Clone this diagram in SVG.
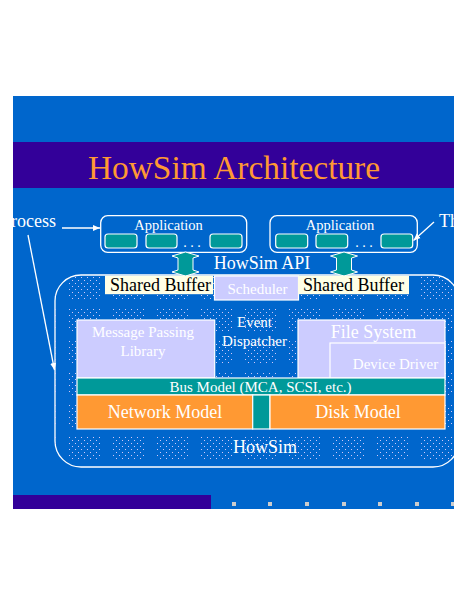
<svg xmlns="http://www.w3.org/2000/svg" width="468" height="605" viewBox="0 0 468 605">
  <style>
    .t { font-family: "Liberation Serif", "Times New Roman", serif; fill: #ffffff; }
    .blk { fill: #000000; }
    .ln { stroke: #ffffff; stroke-width: 1.3; fill: none; }
    .lav { fill: #ccccff; stroke: #ffffff; stroke-width: 1.2; }
    .teal { fill: #009999; stroke: #ffffff; stroke-width: 1.2; }
    .org { fill: #ff9933; stroke: #ffffff; stroke-width: 1.2; }
    .buf { fill: #ffffe6; }
  </style>
  <defs>
    <marker id="ah" markerWidth="8" markerHeight="8" refX="7" refY="4" orient="auto" markerUnits="userSpaceOnUse">
      <path d="M0 1 L7 4 L0 7 z" fill="#ffffff"/>
    </marker>
    <pattern id="dots" patternUnits="userSpaceOnUse" x="69" y="277" width="44" height="32">
      <path d="M0 0.5h31M3 3.5h28M0 6.5h31M3 9.5h28M0 12.5h31M3 15.5h28M0 18.5h31M3 21.5h28" stroke="#d0c8f8" stroke-width="1" stroke-dasharray="1 5"/>
    </pattern>
    <clipPath id="slide"><rect x="13" y="96" width="441" height="413"/></clipPath>
  </defs>

  <!-- slide background -->
  <rect x="13" y="96" width="441" height="413" fill="#0066cc"/>
  <rect x="13" y="142" width="441" height="46" fill="#330099"/>
  <text class="t" x="234" y="179" font-size="33.4" text-anchor="middle" style="fill:#ff9933">HowSim Architecture</text>
  <rect x="13" y="495" width="198" height="14" fill="#330099"/>
  <g fill="#cccccc">
    <rect x="232" y="502" width="4" height="4"/>
    <rect x="268" y="502" width="4" height="4"/>
    <rect x="305" y="502" width="4" height="4"/>
    <rect x="342" y="502" width="4" height="4"/>
    <rect x="378" y="502" width="4" height="4"/>
    <rect x="415" y="502" width="4" height="4"/>
    <rect x="451" y="502" width="3" height="4"/>
  </g>

  <!-- HowSim container -->
  <g id="howsim" clip-path="url(#slide)">
    <rect x="55" y="275" width="404" height="192" rx="26" ry="26" fill="#0066cc" stroke="#ffffff" stroke-width="1.3"/>
    <rect x="55" y="275" width="404" height="192" rx="26" ry="26" fill="url(#dots)"/>
    <text class="t" x="265" y="453" font-size="18" text-anchor="middle">HowSim</text>
  </g>

  <!-- Applications -->
  <g id="app1">
    <rect class="ln" x="100.7" y="215.7" width="146" height="36.6" rx="7"/>
    <text class="t" x="168.5" y="229.5" font-size="14.5" text-anchor="middle">Application</text>
    <rect class="teal" x="105" y="234" width="32" height="14" rx="3"/>
    <rect class="teal" x="146" y="234" width="31" height="14" rx="3"/>
    <text class="t" x="192" y="247" font-size="14" text-anchor="middle">. . .</text>
    <rect class="teal" x="210" y="234" width="32" height="14" rx="3"/>
  </g>
  <g id="app2">
    <rect class="ln" x="270" y="215.7" width="147.3" height="36.6" rx="7"/>
    <text class="t" x="340" y="229.5" font-size="14.5" text-anchor="middle">Application</text>
    <rect class="teal" x="275.7" y="234" width="32" height="14" rx="3"/>
    <rect class="teal" x="316" y="234" width="31.7" height="14" rx="3"/>
    <text class="t" x="364" y="247" font-size="14" text-anchor="middle">. . .</text>
    <rect class="teal" x="381" y="234" width="31.7" height="14" rx="3"/>
  </g>

  <g id="labels">
    <text class="t" x="56" y="227" font-size="18" text-anchor="end">Process</text>
    <text class="t" x="439" y="227" font-size="18">Th</text>
    <text class="t" x="262" y="269" font-size="18" text-anchor="middle">HowSim API</text>
  </g>

  <!-- API arrows -->
  <g id="api-arrows" fill="#009999" stroke="#ffffff" stroke-width="1">
    <polygon points="185.5,252 199,256 193,258 193,270 199,272 185.5,276 172,272 178,270 178,258 172,256"/>
    <polygon points="344,252 357.5,256 351.5,258 351.5,270 357.5,272 344,276 330.5,272 336.5,270 336.5,258 330.5,256"/>
  </g>

  <!-- Shared buffers and scheduler -->
  <g id="buf1">
    <rect class="buf" x="105" y="275.7" width="108" height="18.5"/>
    <text class="t blk" x="160.5" y="291" font-size="18" text-anchor="middle">Shared Buffer</text>
  </g>
  <g id="sched">
    <rect class="lav" x="214.5" y="276" width="84" height="24"/>
    <text class="t" x="257.5" y="293.5" font-size="15" text-anchor="middle">Scheduler</text>
  </g>
  <g id="buf2">
    <rect class="buf" x="298" y="275.7" width="111" height="18.5"/>
    <text class="t blk" x="353.5" y="291" font-size="18" text-anchor="middle">Shared Buffer</text>
  </g>

  <!-- Inner modules -->
  <g id="mpl">
    <rect class="lav" x="77" y="320" width="137.7" height="58"/>
    <text class="t" x="143" y="337" font-size="15" text-anchor="middle">Message Passing</text>
    <text class="t" x="143" y="356" font-size="15" text-anchor="middle">Library</text>
  </g>
  <g id="event">
    <text class="t" x="254.5" y="327" font-size="15" text-anchor="middle">Event</text>
    <text class="t" x="254.5" y="345.5" font-size="15" text-anchor="middle">Dispatcher</text>
  </g>
  <g id="fs">
    <rect class="lav" x="298" y="320" width="147" height="58"/>
    <text class="t" x="373.5" y="338" font-size="18" text-anchor="middle">File System</text>
  </g>
  <g id="dd">
    <rect class="lav" x="330" y="343" width="115" height="35"/>
    <text class="t" x="395.5" y="368.5" font-size="15" text-anchor="middle">Device Driver</text>
  </g>
  <g id="bus">
    <rect class="teal" x="77" y="378" width="368" height="17"/>
    <text class="t" x="260.5" y="391.5" font-size="15" text-anchor="middle">Bus Model (MCA, SCSI, etc.)</text>
  </g>
  <g id="net">
    <rect class="org" x="77" y="395" width="175.7" height="34"/>
    <text class="t" x="165" y="418" font-size="18" text-anchor="middle">Network Model</text>
  </g>
  <g id="link">
    <rect class="teal" x="252.7" y="395" width="17.3" height="34"/>
  </g>
  <g id="disk">
    <rect class="org" x="270" y="395" width="175" height="34"/>
    <text class="t" x="358" y="418" font-size="18" text-anchor="middle">Disk Model</text>
  </g>

  <!-- connectors -->
  <g id="connectors" class="ln">
    <line x1="62" y1="228" x2="100" y2="228" marker-end="url(#ah)"/>
    <line x1="28" y1="235" x2="54.5" y2="370" marker-end="url(#ah)"/>
    <line x1="434" y1="222" x2="413.5" y2="240.5" marker-end="url(#ah)"/>
  </g>
</svg>
